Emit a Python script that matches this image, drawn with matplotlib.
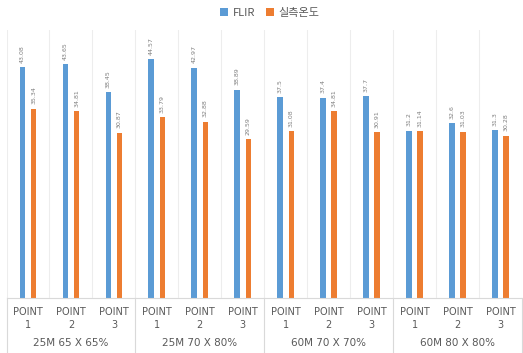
import matplotlib
matplotlib.use("Agg")
import matplotlib.pyplot as plt
import numpy as np

plt.rcParams['font.family'] = ['Noto Sans CJK KR', 'DejaVu Sans']

groups = ['25M 65 X 65%', '25M 70 X 80%', '60M 70 X 70%', '60M 80 X 80%']
points = ['POINT\n1', 'POINT\n2', 'POINT\n3']
flir = [43.08, 43.65, 38.45, 44.57, 42.97, 38.89, 37.5, 37.4, 37.7, 31.2, 32.6, 31.3]
measured = [35.34, 34.81, 30.87, 33.79, 32.88, 29.59, 31.08, 34.81, 30.91, 31.14, 31.03, 30.28]

blue = '#5B9BD5'
orange = '#ED7D31'
grid = '#D9D9D9'
txt = '#595959'

fig = plt.figure(figsize=(5.23, 3.53), dpi=100)
ax = fig.add_axes([6.5 / 523, 1 - 298 / 353, 515.5 / 523, 268 / 353])

x = np.arange(len(flir))
w = 0.13
b1 = ax.bar(x - w, flir, w, color=blue, label='FLIR')
b2 = ax.bar(x + w, measured, w, color=orange, label='실측온도')

for bars, vals in ((b1, flir), (b2, measured)):
    for r, v in zip(bars, vals):
        ax.text(r.get_x() + r.get_width() / 2, v + 0.8, f'{v:g}', rotation=90,
                ha='center', va='bottom', fontsize=4.5, color='#7F7F7F',
                family='DejaVu Sans')

ax.set_xlim(-0.5, len(flir) - 0.5)
ax.set_ylim(0, 50)
ax.set_yticks([])
ax.set_xticks([])
for s in ax.spines.values():
    s.set_visible(False)
ax.axhline(0, color=grid, lw=0.8, clip_on=False)

# category separators
for i in range(len(flir) + 1):
    ax.axvline(i - 0.5, color='#EDEDED', lw=0.8)
    if i % 3 == 0:
        ax.plot([i - 0.5, i - 0.5], [0, -10.5], color=grid, lw=0.8, clip_on=False)

for i in range(len(flir)):
    ax.text(i, -1.7, points[i % 3], ha='center', va='top', fontsize=7,
            color=txt, family='DejaVu Sans', linespacing=1.4)
for g, name in enumerate(groups):
    ax.text(g * 3 + 1, -8.4, name, ha='center', va='center', fontsize=7.5,
            color=txt, family='DejaVu Sans')

fig.legend(handles=[b1, b2], loc='center', bbox_to_anchor=(270 / 523, 1 - 13 / 353),
           ncol=2, frameon=False, fontsize=8, handlelength=0.7, handleheight=0.7,
           columnspacing=1.0, handletextpad=0.4, labelcolor=txt)

fig.savefig('out.png', dpi=100)
